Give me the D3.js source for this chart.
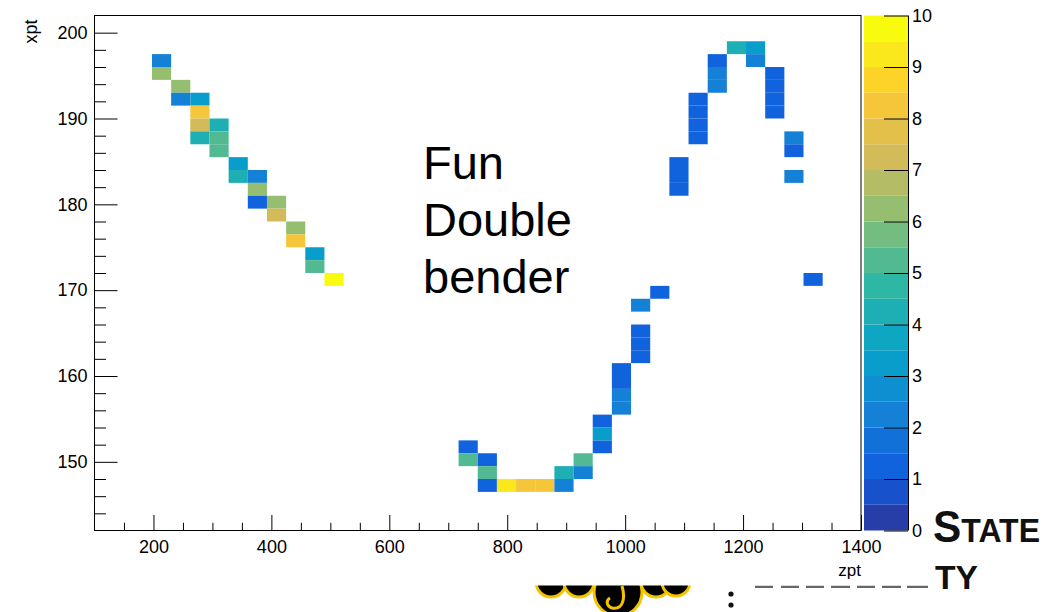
<!DOCTYPE html>
<html><head><meta charset="utf-8">
<script src="https://cdn.jsdelivr.net/npm/d3@7"></script>
<style>
body{margin:0;background:#fff}
svg{display:block}
text{font-family:"Liberation Sans",Arial,Helvetica,sans-serif}
</style>
</head><body>
<svg id="c" width="1048" height="612"></svg>
<script>
// ---------------- data ----------------
const zptRange = [100, 1400];   // x-axis of the TH2 (zpt)
const xptRange = [142, 202];    // y-axis of the TH2 (xpt)
const nBinsZpt = 40;
const nBinsXpt = 40;
const zMax = 10;

// cell centres (zpt, xpt) and bin contents
const cellZpt = [
  213.75,213.75,246.25,246.25,278.75,278.75,278.75,311.25,278.75,311.25,311.25,343.75,
  343.75,376.25,376.25,376.25,408.75,408.75,441.25,441.25,473.75,473.75,506.25,
  733.75,733.75,766.25,766.25,766.25,798.75,831.25,863.75,896.25,896.25,928.75,928.75,
  961.25,961.25,961.25,993.75,993.75,993.75,993.75,1026.25,1026.25,1026.25,1026.25,1058.75,
  1091.25,1091.25,1091.25,1123.75,1123.75,1123.75,1123.75,1156.25,1156.25,1156.25,
  1188.75,1221.25,1221.25,1253.75,1253.75,1253.75,1253.75,1286.25,1286.25,1286.25,1318.75
];
const cellXpt = [
  196.75,195.25,193.75,192.25,192.25,190.75,189.25,189.25,187.75,187.75,186.25,184.75,
  183.25,183.25,181.75,180.25,180.25,178.75,177.25,175.75,174.25,172.75,171.25,
  151.75,150.25,150.25,148.75,147.25,147.25,147.25,147.25,147.25,148.75,148.75,150.25,
  151.75,153.25,154.75,156.25,157.75,159.25,160.75,162.25,163.75,165.25,168.25,169.75,
  181.75,183.25,184.75,187.75,189.25,190.75,192.25,193.75,195.25,196.75,
  198.25,198.25,196.75,190.75,192.25,193.75,195.25,187.75,186.25,183.25,171.25
];
const cellCount = [
  2,6,6,2,3,8,7,4,4,5,5,3,
  4,2,6,1,6,7,6,8,3,5,10,
  1,5,1,5,1,9,8,8,2,4,2,5,
  1,3,1,2,2,1,1,1,1,1,2,1,
  1,1,1,1,1,1,1,2,2,1,
  4,3,2,1,1,1,1,2,1,2,1
];

const zptMajor = [200,400,600,800,1000,1200,1400];
const xptMajor = [150,160,170,180,190,200];
const zMajor = [0,1,2,3,4,5,6,7,8,9,10];
const annotation = ["Fun", "Double", "bender"];

// ---------------- palette (ROOT kBird) ----------------
const birdStops = [0,.125,.25,.375,.5,.625,.75,.875,1];
const birdR = [0.2082,0.0592,0.0780,0.0232,0.1802,0.5301,0.8186,0.9956,0.9764];
const birdG = [0.1664,0.3599,0.5041,0.6419,0.7178,0.7492,0.7328,0.7862,0.9832];
const birdB = [0.5293,0.8684,0.8385,0.7914,0.6425,0.4662,0.3499,0.1968,0.0539];
const bird = d3.scaleLinear().domain(birdStops)
  .range(birdStops.map((_,i)=>d3.rgb(birdR[i]*255,birdG[i]*255,birdB[i]*255).toString()))
  .interpolate(d3.interpolateRgb);
const nCont = 20;
function bandColor(k){ const idx = Math.floor((k+0.99)*255/nCont); return bird(idx/254); }
function countColor(c){ const k = Math.min(nCont-1, Math.floor(c/(zMax/nCont))); return bandColor(k); }

const svg = d3.select('#c');

// ---------------- slide logo fragments (outside the ROOT canvas) ----------------
const logo = svg.append('g');
// bottoms of hidden wordmark letters
[[755,773],[781,799],[806,824],[831,850],[857,875],[882,901],[907,928]].forEach(s=>
  logo.append('rect').attr('x',s[0]).attr('y',585.5).attr('width',s[1]-s[0]).attr('height',2.5).attr('fill','#666'));
logo.append('text').attr('x',935).attr('y',589).attr('font-family','"Open Sans",sans-serif')
  .attr('font-weight',700).attr('font-size',34).attr('fill','#111')
  .attr('textLength',43).attr('lengthAdjust','spacingAndGlyphs').text('TY');
const st = logo.append('text').attr('x',933).attr('y',542).attr('font-family','"Open Sans",sans-serif')
  .attr('font-weight',700).attr('fill','#111');
st.append('tspan').attr('font-size',45).text('S');
st.append('tspan').attr('font-size',34).text('TATE');
st.attr('textLength',107).attr('lengthAdjust','spacingAndGlyphs');
logo.append('circle').attr('cx',731).attr('cy',594).attr('r',2.6).attr('fill','#111');
logo.append('circle').attr('cx',731).attr('cy',605).attr('r',2.6).attr('fill','#111');
// yellow / black mascot fragment
const blobs = [[551,582,15],[579,582,15],[656,582,15],[676,582,14]];
blobs.forEach(b=>logo.append('circle').attr('cx',b[0]).attr('cy',b[1]).attr('r',b[2])
  .attr('fill','#000').attr('stroke','#f5c400').attr('stroke-width',3));
logo.append('circle').attr('cx',618).attr('cy',592).attr('r',24).attr('fill','#000')
  .attr('stroke','#f5c400').attr('stroke-width',3);
logo.append('path').attr('d','M622,586 C626,600 622,610 612,608 C606,606 606,600 610,598')
  .attr('fill','none').attr('stroke','#f5c400').attr('stroke-width',3);

// ---------------- ROOT canvas ----------------
svg.append('rect').attr('x',0).attr('y',0).attr('width',932).attr('height',585.5).attr('fill','#fff');

const m = {left:94.5, right:861, top:15.5, bottom:530.5};
const x = d3.scaleLinear().domain(zptRange).range([m.left, m.right]);
const y = d3.scaleLinear().domain(xptRange).range([m.bottom, m.top]);
const bwZ = (zptRange[1]-zptRange[0])/nBinsZpt;
const bwX = (xptRange[1]-xptRange[0])/nBinsXpt;

// cells
const cells = cellZpt.map((z,i)=>({z, xp:cellXpt[i], c:cellCount[i]}));
svg.append('g').selectAll('rect').data(cells).join('rect')
  .attr('x', d=>x(d.z-bwZ/2))
  .attr('width', d=>x(d.z+bwZ/2)-x(d.z-bwZ/2))
  .attr('y', d=>y(d.xp+bwX/2))
  .attr('height', d=>y(d.xp-bwX/2)-y(d.xp+bwX/2))
  .attr('fill', d=>countColor(d.c));

// axes
const fs = 18;
const minorZ = d3.range(150, 1400, 50).filter(v=>v%200!==0);
const minorX = d3.range(144, 202, 2).filter(v=>v%10!==0);

svg.append('g').attr('transform',`translate(0,${m.bottom})`)
  .call(d3.axisBottom(x).tickValues(zptMajor).tickSize(-15.5).tickPadding(10).tickFormat(d3.format('d')));
svg.append('g').attr('transform',`translate(0,${m.bottom})`)
  .call(d3.axisBottom(x).tickValues(minorZ).tickSize(-7.7).tickFormat(''));
svg.append('g').attr('transform',`translate(${m.left},0)`)
  .call(d3.axisLeft(y).tickValues(xptMajor).tickSize(-23).tickPadding(7).tickFormat(d3.format('d')));
svg.append('g').attr('transform',`translate(${m.left},0)`)
  .call(d3.axisLeft(y).tickValues(minorX).tickSize(-11.5).tickFormat(''));
svg.selectAll('.domain').remove();
svg.selectAll('.tick line').attr('stroke','#000').attr('stroke-width',1);
svg.selectAll('.tick text').attr('font-size',fs).attr('fill','#000')
  .attr('font-family','"Liberation Sans",Arial,sans-serif');

// frame
svg.append('rect').attr('x',m.left).attr('y',m.top).attr('width',m.right-m.left)
  .attr('height',m.bottom-m.top).attr('fill','none').attr('stroke','#000').attr('stroke-width',1);

// titles
svg.append('text').attr('x',m.right).attr('y',576).attr('text-anchor','end')
  .attr('font-size',17).attr('fill','#000').text('zpt');
svg.append('text').attr('transform',`translate(37,${m.top+4}) rotate(-90)`).attr('text-anchor','end')
  .attr('font-size',fs).attr('fill','#000').text('xpt');

// palette
const pal = {left:864, right:908};
const zS = d3.scaleLinear().domain([0,zMax]).range([m.bottom, m.top]);
svg.append('g').selectAll('rect').data(d3.range(nCont)).join('rect')
  .attr('x',pal.left).attr('width',pal.right-pal.left)
  .attr('y',k=>zS((k+1)*zMax/nCont)).attr('height',k=>zS(k*zMax/nCont)-zS((k+1)*zMax/nCont))
  .attr('fill',k=>bandColor(k));
const gz = svg.append('g').attr('transform',`translate(${pal.right},0)`)
  .call(d3.axisRight(zS).tickValues(zMajor).tickSize(-24).tickPadding(4).tickFormat(d3.format('d')));
gz.select('.domain').attr('stroke','#000').attr('d',`M0.5,${m.top}V${m.bottom}`);
gz.selectAll('.tick line').attr('stroke','#000');
gz.selectAll('.tick text').attr('font-size',fs).attr('fill','#000')
  .attr('font-family','"Liberation Sans",Arial,sans-serif');

// annotation
svg.append('g').selectAll('text').data(annotation).join('text')
  .attr('x',423).attr('y',(d,i)=>179+i*57).attr('font-size',47).attr('fill','#000').text(d=>d);
</script>
</body></html>
